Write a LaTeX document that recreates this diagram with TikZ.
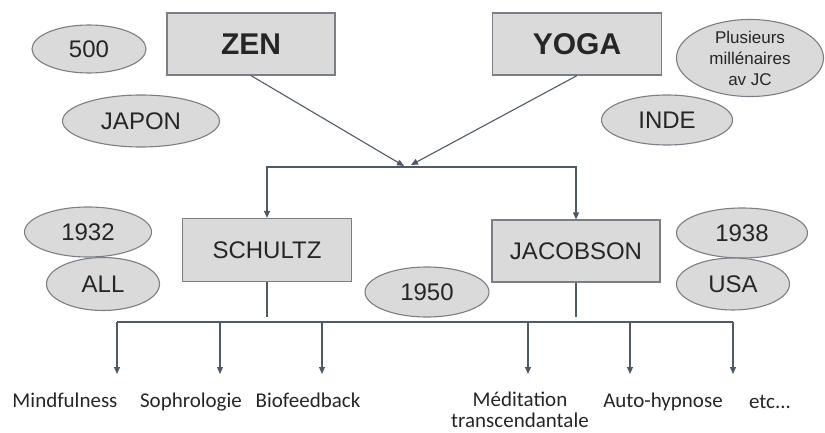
\documentclass[tikz,border=0pt]{standalone}
\usepackage{fontspec}
\setmainfont{Liberation Sans}
\newfontfamily\calfont{Carlito}
\usetikzlibrary{shapes.geometric,arrows.meta}
\definecolor{boxfill}{HTML}{DADADA}
\definecolor{boxline}{HTML}{7A7F85}
\definecolor{arrline}{HTML}{4F5A66}
\definecolor{txt}{HTML}{262626}
\tikzset{
  rbox/.style={draw=boxline, line width=1.2pt, fill=boxfill, text=txt, inner sep=0pt},
  oval/.style={ellipse, draw=boxline, line width=1.1pt, fill=boxfill, text=txt, inner sep=0pt, font=\fontsize{24}{27}\selectfont},
  conn/.style={draw=arrline, line width=1.1pt},
  arr/.style={conn, -{Triangle[width=6pt,length=7pt]}},
  lbl/.style={text=txt, font=\calfont\fontsize{21}{21}\selectfont, inner sep=0pt, align=center}
}
\begin{document}
\begin{tikzpicture}[x=1pt,y=-1pt]
\useasboundingbox (0,0) rectangle (825,433);
% top boxes
\node[rbox, minimum width=168pt, minimum height=62pt, font=\bfseries\fontsize{30}{33}\selectfont] (zen) at (251,44) {ZEN};
\node[rbox, minimum width=169pt, minimum height=62pt, font=\bfseries\fontsize{30}{33}\selectfont] (yoga) at (577,44) {YOGA};
% ellipses top
\node[oval, minimum width=114pt, minimum height=48pt] (e500) at (89,49) {500};
\node[oval, minimum width=157pt, minimum height=52pt] (japon) at (141,121) {JAPON};
\node[oval, minimum width=147pt, minimum height=70pt, align=center, font=\fontsize{17}{21}\selectfont] (plus) at (750,58) {Plusieurs\\millénaires\\av JC};
\node[oval, minimum width=131pt, minimum height=50pt] (inde) at (667,120) {INDE};
% middle boxes
\node[rbox, minimum width=169pt, minimum height=63pt, font=\fontsize{24}{27}\selectfont] (sch) at (267,250) {SCHULTZ};
\node[rbox, minimum width=168pt, minimum height=62pt, font=\fontsize{24}{27}\selectfont] (jac) at (576,251) {JACOBSON};
% ellipses middle
\node[oval, minimum width=127pt, minimum height=50pt] (e1932) at (88,232) {1932};
\node[oval, minimum width=113pt, minimum height=53pt] (all) at (103,284) {ALL};
\node[oval, minimum width=124pt, minimum height=50pt] (e1950) at (427,292) {1950};
\node[oval, minimum width=131pt, minimum height=50pt] (e1938) at (742,233) {1938};
\node[oval, minimum width=113pt, minimum height=52pt] (usa) at (733,284) {USA};
% arrows from top
\coordinate (m1) at (404,166);
\coordinate (m2) at (411,165);
\draw[arr] (zen.south) -- (m1);
\draw[arr] (yoga.south) -- (m2);
\coordinate (hc) at (420,167);
\draw[arr] (hc) -| (sch.north);
\draw[arr] (hc) -| (jac.north);
% lower bus
\coordinate (se) at (267,317);
\coordinate (je) at (576,317);
\draw[conn] (sch.south) -- (se);
\draw[conn] (jac.south) -- (je);
\coordinate (bl) at (117,322);
\coordinate (br) at (733,322);
\draw[conn] (bl) -- (br);
% labels
\node[lbl, anchor=base] (l1) at (65,407) {Mindfulness};
\node[lbl, anchor=base] (l2) at (191,407) {Sophrologie};
\node[lbl, anchor=base] (l3) at (308,407) {Biofeedback};
\node[lbl] (l4) at (520,410) {Méditation\\transcendantale};
\node[lbl, anchor=base] (l5) at (663,407) {Auto-hypnose};
\node[lbl, anchor=base] (l6) at (770,408) {etc...};
% arrow ends
\foreach \n/\x in {1/117,2/220,3/322,4/528,5/630,6/733}{
  \coordinate (s\n) at (\x,322);
  \coordinate (t\n) at (\x,374);
  \draw[arr] (s\n) -- (t\n);
}
\end{tikzpicture}
\end{document}
